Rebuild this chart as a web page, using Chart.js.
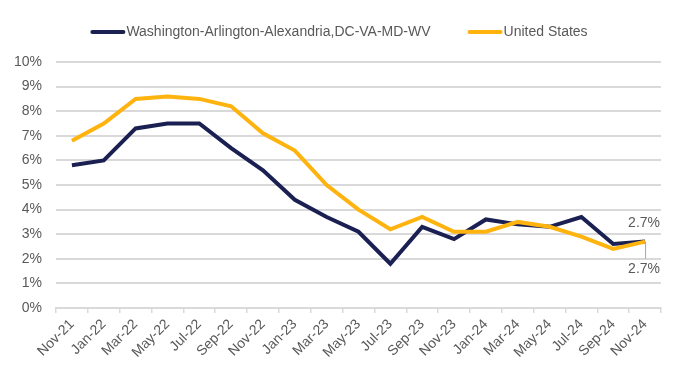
<!DOCTYPE html>
<html>
<head>
<meta charset="utf-8">
<script src="https://cdn.jsdelivr.net/npm/chart.js@4/dist/chart.umd.min.js"></script>
<style>
  html, body { margin: 0; padding: 0; background: #ffffff; overflow: hidden; }
  #wrap { width: 677px; height: 383px; position: relative; }
</style>
</head>
<body>
<div id="wrap"><canvas id="c" width="677" height="383"></canvas></div>
<script>
const categories = ["Nov-21","Jan-22","Mar-22","May-22","Jul-22","Sep-22","Nov-22","Jan-23","Mar-23","May-23","Jul-23","Sep-23","Nov-23","Jan-24","Mar-24","May-24","Jul-24","Sep-24","Nov-24"];
const dcValues = [5.8, 6.0, 7.3, 7.5, 7.5, 6.5, 5.6, 4.4, 3.7, 3.1, 1.8, 3.3, 2.8, 3.6, 3.4, 3.3, 3.7, 2.6, 2.7];
const usValues = [6.8, 7.5, 8.5, 8.6, 8.5, 8.2, 7.1, 6.4, 5.0, 4.0, 3.2, 3.7, 3.1, 3.1, 3.5, 3.3, 2.9, 2.4, 2.7];
const seriesNames = ["Washington-Arlington-Alexandria,DC-VA-MD-WV", "United States"];
const seriesColors = ["#1a2052", "#ffb30f"];
const yTicks = [0,1,2,3,4,5,6,7,8,9,10];

const FONT = "'Liberation Sans', Arial, sans-serif";
const TEXT = "#595959";

const customLegend = {
  id: 'customLegend',
  afterDraw(chart) {
    const ctx = chart.ctx;
    ctx.save();
    ctx.font = "14px " + FONT;
    const lineW = 33, gapText = 2, gapItems = 38;
    const widths = seriesNames.map(n => ctx.measureText(n).width);
    let total = 0;
    widths.forEach((w, i) => { total += lineW + gapText + w + (i < widths.length - 1 ? gapItems : 0); });
    let x = (chart.width - total) / 2 + 1;
    const y = 32;
    seriesNames.forEach((n, i) => {
      ctx.strokeStyle = seriesColors[i];
      ctx.lineWidth = 4;
      ctx.lineCap = 'round';
      ctx.beginPath();
      ctx.moveTo(x + 1, y);
      ctx.lineTo(x + lineW - 1, y);
      ctx.stroke();
      ctx.fillStyle = TEXT;
      ctx.textAlign = 'left';
      ctx.textBaseline = 'middle';
      ctx.fillText(n, x + lineW + gapText, y);
      x += lineW + gapText + widths[i] + gapItems;
    });
    ctx.restore();
  }
};

const endLabels = {
  id: 'endLabels',
  afterDatasetsDraw(chart) {
    const ctx = chart.ctx;
    ctx.save();
    ctx.font = "14px " + FONT;
    ctx.fillStyle = TEXT;
    ctx.textAlign = 'center';
    ctx.textBaseline = 'middle';
    const last = categories.length - 1;
    const pDC = chart.getDatasetMeta(0).data[last];
    const pUS = chart.getDatasetMeta(1).data[last];
    ctx.fillText(dcValues[last].toFixed(1) + "%", pDC.x - 1, pDC.y - 18);
    ctx.strokeStyle = "#a6a6a6";
    ctx.lineWidth = 1;
    ctx.beginPath();
    ctx.moveTo(pUS.x + 0.5, pUS.y);
    ctx.lineTo(pUS.x + 0.5, pUS.y + 17);
    ctx.stroke();
    ctx.fillText(usValues[last].toFixed(1) + "%", pUS.x - 1, pUS.y + 28);
    ctx.restore();
  }
};

new Chart(document.getElementById('c'), {
  type: 'line',
  data: {
    labels: categories,
    datasets: [
      { label: seriesNames[0], data: dcValues, order: 1, borderColor: seriesColors[0], backgroundColor: seriesColors[0], borderWidth: 4, pointRadius: 0, tension: 0, borderJoinStyle: 'miter' },
      { label: seriesNames[1], data: usValues, order: 0, borderColor: seriesColors[1], backgroundColor: seriesColors[1], borderWidth: 4, pointRadius: 0, tension: 0, borderJoinStyle: 'miter' }
    ]
  },
  options: {
    responsive: false,
    maintainAspectRatio: false,
    animation: false,
    devicePixelRatio: 1,
    layout: { padding: { top: 62, right: 16, left: 0, bottom: 0 } },
    plugins: {
      legend: { display: false },
      tooltip: { enabled: false }
    },
    scales: {
      x: {
        offset: true,
        grid: { display: true, drawOnChartArea: false, drawTicks: true, tickLength: 5, color: '#d9d9d9', lineWidth: 1.5, offset: true },
        border: { display: true, color: '#d9d9d9', width: 2 },
        ticks: { color: TEXT, font: { family: FONT, size: 14 }, maxRotation: 45, minRotation: 45, autoSkip: false, padding: 3 },
        afterFit(scale) { scale.height = 75; }
      },
      y: {
        min: 0, max: 10,
        afterBuildTicks(scale) { scale.ticks = yTicks.map(v => ({ value: v })); },
        grid: { color: '#d9d9d9', lineWidth: 2, drawTicks: false },
        border: { display: false },
        ticks: { color: TEXT, font: { family: FONT, size: 14 }, padding: 14, callback: v => v + "%" },
        afterFit(scale) { scale.width = 56; }
      }
    }
  },
  plugins: [customLegend, endLabels]
});
</script>
</body>
</html>
